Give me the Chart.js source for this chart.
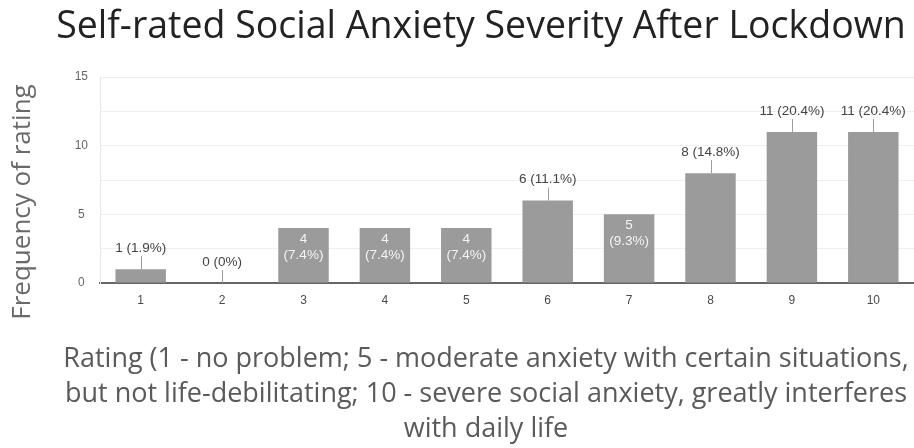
<!DOCTYPE html>
<html>
<head>
  <title>Self-rated Social Anxiety Severity After Lockdown</title>
  <script src="https://cdn.jsdelivr.net/npm/chart.js"></script>
  <style>
    body {
      margin: 0;
      background-color: #fff;
    }
    .chart-box {
      position: relative;
      width: 914px;
      height: 448px;
    }
  </style>
</head>
<body>
  <div class="chart-box">
    <canvas id="anxietyChart"></canvas>
  </div>

  <script>
    const ratings = ['1', '2', '3', '4', '5', '6', '7', '8', '9', '10'];
    const counts = [1, 0, 4, 4, 4, 6, 5, 8, 11, 11];
    const percents = ['1.9%', '0%', '7.4%', '7.4%', '7.4%', '11.1%', '9.3%', '14.8%', '20.4%', '20.4%'];
    const yTicks = [0, 5, 10, 15];

    const chartTitle = 'Self-rated Social Anxiety Severity After Lockdown';
    const yTitle = 'Frequency of rating';
    const xTitle = [
      'Rating (1 - no problem; 5 - moderate anxiety with certain situations,',
      'but not life-debilitating; 10 - severe social anxiety, greatly interferes',
      'with daily life'
    ];

    // labels drawn inside the bar (google forms style)
    const insideBars = [2, 3, 4, 6];

    const barLabels = {
      id: 'barLabels',
      afterDatasetsDraw(chart) {
        const ctx = chart.ctx;
        const meta = chart.getDatasetMeta(0);
        ctx.save();
        ctx.font = '13.5px Arial, "Liberation Sans", sans-serif';
        ctx.textAlign = 'center';
        ctx.textBaseline = 'middle';
        meta.data.forEach((bar, i) => {
          const x = bar.x;
          const top = bar.y;
          if (insideBars.includes(i)) {
            ctx.fillStyle = '#f4f4f4';
            ctx.fillText(String(counts[i]), x, top + 11);
            ctx.fillText('(' + percents[i] + ')', x, top + 27);
          } else {
            ctx.strokeStyle = '#9b9b9b';
            ctx.lineWidth = 1;
            ctx.beginPath();
            ctx.moveTo(Math.round(x) + 0.5, top);
            ctx.lineTo(Math.round(x) + 0.5, top - 13);
            ctx.stroke();
            ctx.fillStyle = '#444';
            ctx.fillText(counts[i] + ' (' + percents[i] + ')', x, top - 21);
          }
        });
        ctx.restore();
      }
    };

    const titles = {
      id: 'titles',
      afterDraw(chart) {
        const ctx = chart.ctx;
        ctx.save();
        ctx.textAlign = 'center';
        ctx.textBaseline = 'middle';

        ctx.fillStyle = '#222';
        ctx.font = '37.5px "Open Sans", sans-serif';
        ctx.fillText(chartTitle, 481, 27);

        ctx.fillStyle = '#5a5a5a';
        ctx.font = '27px "Open Sans", sans-serif';
        xTitle.forEach((line, i) => {
          ctx.fillText(line, 486, 359 + i * 35);
        });

        ctx.translate(23, 202);
        ctx.rotate(-Math.PI / 2);
        ctx.fillStyle = '#6a6a6a';
        ctx.font = '26px "Open Sans", sans-serif';
        ctx.fillText(yTitle, 0, 0);
        ctx.restore();
      }
    };

    const ctx = document.getElementById('anxietyChart').getContext('2d');

    new Chart(ctx, {
      type: 'bar',
      data: {
        labels: ratings,
        datasets: [{
          data: counts,
          backgroundColor: '#9b9b9b',
          borderWidth: 0,
          barPercentage: 0.62,
          categoryPercentage: 1.0
        }]
      },
      options: {
        responsive: true,
        maintainAspectRatio: false,
        animation: false,
        layout: {
          padding: { top: 77, left: 60, right: 0, bottom: 135 }
        },
        plugins: {
          legend: { display: false },
          tooltip: { enabled: false }
        },
        scales: {
          x: {
            grid: { display: false },
            border: { color: '#666', width: 2 },
            ticks: {
              color: '#4a4a4a',
              font: { family: 'Arial, "Liberation Sans", sans-serif', size: 12 },
              padding: 2
            },
            afterFit(scale) { scale.height = 30; }
          },
          y: {
            min: 0,
            max: 15,
            grid: { color: '#efefef', drawTicks: false },
            border: { color: '#e6e6e6', width: 1 },
            ticks: {
              stepSize: 2.5,
              color: '#666',
              crossAlign: 'center',
              padding: 12,
              font: { family: 'Arial, "Liberation Sans", sans-serif', size: 12 },
              callback: function(value) {
                return yTicks.includes(value) ? value : '';
              }
            },
            afterFit(scale) { scale.width = 40; }
          }
        }
      },
      plugins: [barLabels, titles]
    });
  </script>
</body>
</html>
